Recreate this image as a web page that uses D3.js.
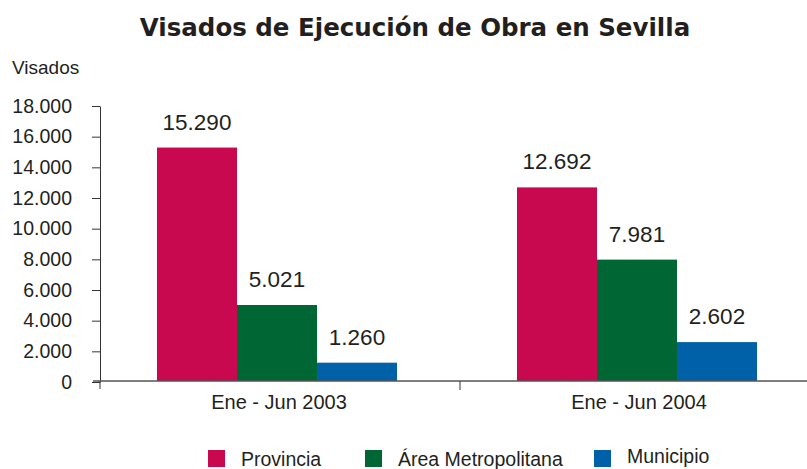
<!DOCTYPE html>
<html>
<head>
<meta charset="UTF-8">
<title>Visados de Ejecución de Obra en Sevilla</title>
<script src="https://cdn.jsdelivr.net/npm/d3@7"></script>
<style>
  body { margin: 0; background: #fff; }
  text { font-family: "Liberation Sans", Arial, sans-serif; fill: #231f20; }
</style>
</head>
<body>
<svg width="807" height="469"></svg>
<script>
// datos
var periodos = ["Ene - Jun 2003", "Ene - Jun 2004"];
var series = ["Provincia", "Área Metropolitana", "Municipio"];
var provincia = [15290, 12692];
var areaMetro = [5021, 7981];
var municipio = [1260, 2602];
var colores = ["#c8084f", "#006633", "#0060a8"];
var yTicks = [0, 2000, 4000, 6000, 8000, 10000, 12000, 14000, 16000, 18000];

var valores = [provincia, areaMetro, municipio];
var filas = periodos.map(function (p, i) {
    return series.map(function (s, j) { return { periodo: p, serie: s, v: valores[j][i] }; });
});

var es = d3.formatLocale({ decimal: ",", thousands: ".", grouping: [3], currency: ["", "€"] });
var fmt = es.format(",d");

var svg = d3.select("svg");
var x = d3.scaleBand().domain(periodos).range([100, 820]);
var xs = d3.scaleBand().domain(series).range([57, 297]);
var y = d3.scaleLinear().domain([0, 18000]).range([382, 106]);

// título
svg.append("text")
    .attr("x", 415).attr("y", 36)
    .attr("text-anchor", "middle")
    .style("font-family", "'DejaVu Sans', sans-serif")
    .style("font-weight", "bold")
    .style("font-size", "24.5px")
    .text("Visados de Ejecución de Obra en Sevilla");

svg.append("text")
    .attr("x", 12).attr("y", 74)
    .style("font-size", "19px")
    .text("Visados");

// barras
var g = svg.selectAll("g.grupo").data(filas).enter().append("g")
    .attr("class", "grupo")
    .attr("transform", function (d, i) { return "translate(" + x(periodos[i]) + ",0)"; });

g.selectAll("rect").data(function (d) { return d; }).enter().append("rect")
    .attr("x", function (d) { return xs(d.serie); })
    .attr("width", xs.bandwidth())
    .attr("y", function (d) { return y(d.v); })
    .attr("height", function (d) { return 381 - y(d.v); })
    .attr("fill", function (d, j) { return colores[j]; });

g.selectAll("text.val").data(function (d) { return d; }).enter().append("text")
    .attr("class", "val")
    .attr("x", function (d) { return xs(d.serie) + xs.bandwidth() / 2; })
    .attr("y", function (d) { return y(d.v) - 18; })
    .attr("text-anchor", "middle")
    .style("font-size", "22.5px")
    .text(function (d) { return fmt(d.v); });

// eje y
var yAxis = svg.append("g")
    .attr("transform", "translate(100,0)")
    .call(d3.axisLeft(y).tickValues(yTicks).tickSize(8).tickSizeOuter(0).tickFormat(fmt));
yAxis.select(".domain").attr("stroke", "#333");
yAxis.selectAll(".tick line").attr("stroke", "#333");
yAxis.selectAll(".tick text")
    .attr("x", -28)
    .style("font-family", "'Liberation Sans', Arial, sans-serif")
    .style("font-size", "19.5px")
    .attr("fill", "#231f20");
svg.append("line").attr("x1", 100).attr("x2", 100).attr("y1", 381).attr("y2", 389).attr("stroke", "#333");

// eje x
svg.append("line").attr("x1", 93).attr("x2", 807).attr("y1", 381).attr("y2", 381)
    .attr("stroke", "#555").attr("stroke-width", 1.5);
svg.append("line").attr("x1", x(periodos[1])).attr("x2", x(periodos[1]))
    .attr("y1", 381).attr("y2", 390).attr("stroke", "#333");
svg.selectAll("text.cat").data(periodos).enter().append("text")
    .attr("class", "cat")
    .attr("x", function (d) { return x(d) + 179; })
    .attr("y", 409)
    .attr("text-anchor", "middle")
    .style("font-size", "20px")
    .text(function (d) { return d; });

// leyenda
var legX = [208, 365, 594];
var leg = svg.selectAll("g.leg").data(series).enter().append("g")
    .attr("class", "leg")
    .attr("transform", function (d, i) { return "translate(" + legX[i] + ",450)"; });
leg.append("rect").attr("width", 17).attr("height", 17)
    .attr("fill", function (d, i) { return colores[i]; });
leg.append("text")
    .attr("x", 33)
    .attr("y", function (d, i) { return i === 2 ? 13 : 16; })
    .style("font-size", "19.5px")
    .text(function (d) { return d; });
</script>
</body>
</html>
